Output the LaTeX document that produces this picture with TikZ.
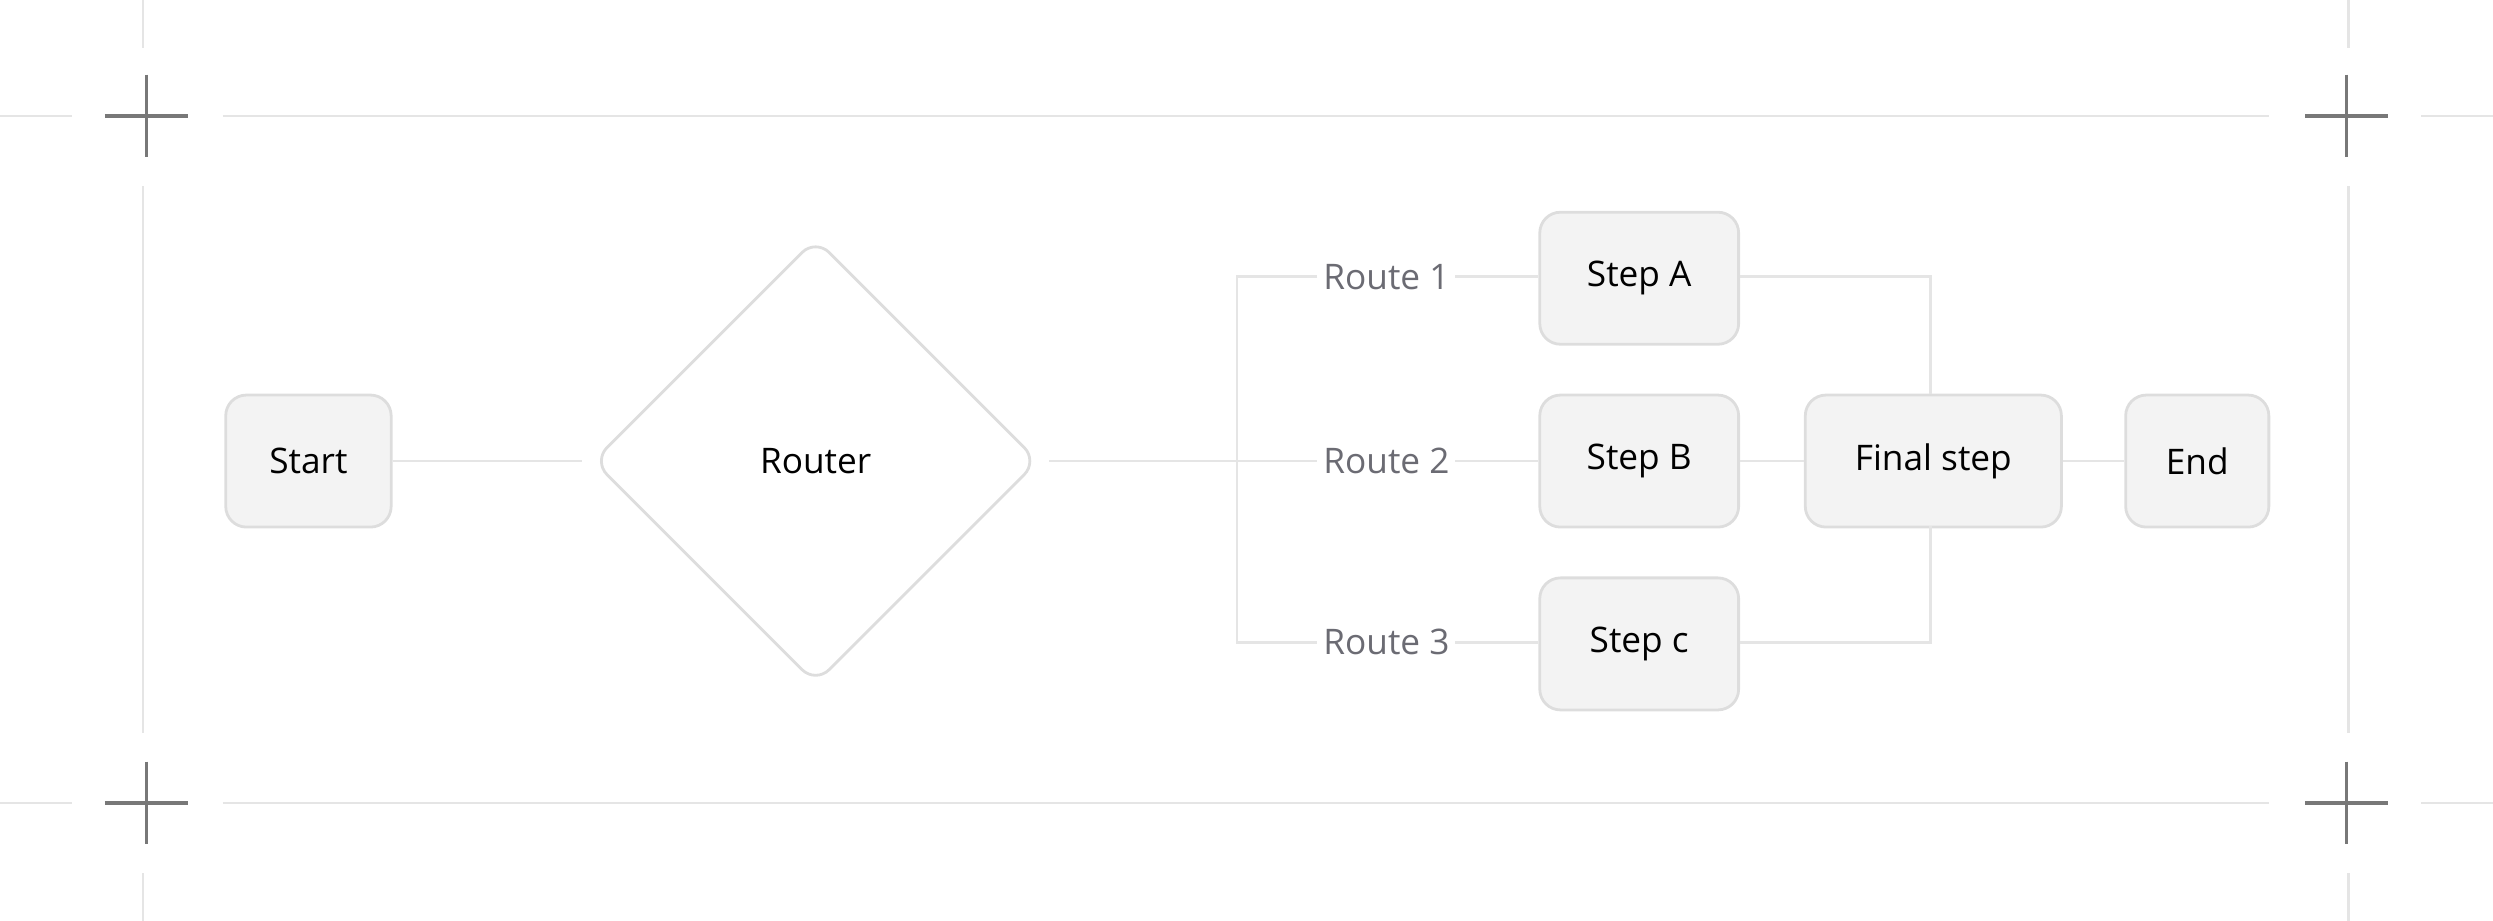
\documentclass[tikz,border=0pt]{standalone}
\usepackage{fontspec}
\setmainfont{Open Sans}
\usetikzlibrary{shapes.geometric}
\definecolor{boxfill}{RGB}{243,243,243}
\definecolor{boxline}{RGB}{221,221,221}
\definecolor{wireline}{RGB}{229,229,229}
\definecolor{markgray}{RGB}{120,120,120}
\definecolor{labelgray}{RGB}{107,107,115}

\begin{document}
\begin{tikzpicture}[x=0.01cm,y=-0.01cm,font=\fontsize{6.3pt}{7pt}\selectfont]

%
% Styles
%
\tikzstyle{stepbox} = [rectangle,rounded corners=0.13cm,draw=boxline,fill=boxfill,line width=0.5pt,minimum height=0.83cm,inner sep=0pt]
\tikzstyle{routelabel} = [text=labelgray,inner sep=0.03cm]
\tikzstyle{wire} = [draw=wireline,line width=0.5pt]
\tikzstyle{crossmark} = [draw=markgray,line width=0.6pt]

\useasboundingbox (0,0) rectangle (1568,579);

% frame
\draw[wire] (0,73) -- (45,73) (140,73) -- (1427,73) (1523,73) -- (1568,73);
\draw[wire] (0,505) -- (45,505) (140,505) -- (1427,505) (1523,505) -- (1568,505);
\draw[wire] (90,0) -- (90,30) (90,117) -- (90,461) (90,549) -- (90,579);
\draw[wire] (1477,0) -- (1477,30) (1477,117) -- (1477,461) (1477,549) -- (1477,579);
\foreach \cx/\cy in {92/73, 1476/73, 92/505, 1476/505}
  \draw[crossmark] (\cx-26,\cy) -- (\cx+26,\cy) (\cx,\cy-26) -- (\cx,\cy+26);

\node[stepbox,minimum width=1.04cm] (start) at (194,290) {Start};
\node[diamond,rounded corners=0.12cm,draw=boxline,fill=white,line width=0.5pt,minimum width=2.8cm,minimum height=2.8cm,inner sep=0pt] (router) at (513,290) {Router};
\node[routelabel] (r1) at (872,174) {Route 1};
\node[routelabel] (r2) at (872,290) {Route 2};
\node[routelabel] (r3) at (872,404) {Route 3};
\node[stepbox,minimum width=1.25cm] (sa) at (1031,175) {Step A};
\node[stepbox,minimum width=1.25cm] (sb) at (1031,290) {Step B};
\node[stepbox,minimum width=1.25cm] (sc) at (1031,405) {Step c};
\node[stepbox,minimum width=1.61cm] (final) at (1216,290) {Final step};
\node[stepbox,minimum width=0.90cm] (end) at (1382,290) {End};

\coordinate (split) at (778,290);
\coordinate (jointop) at (1214,248);
\coordinate (joinbot) at (1214,331);

\draw[wire,shorten >=0.06cm] (start) -- (router);
\draw[wire,shorten <=0.06cm] (router) -- (r2);
\draw[wire] (r1.west) -| (split) |- (r3.west);
\draw[wire] (r1) -- (sa.west |- r1);
\draw[wire] (r2) -- (sb);
\draw[wire] (r3) -- (sc.west |- r3);
\draw[wire] (sa.east |- r1) -| (jointop);
\draw[wire] (sc.east |- r3) -| (joinbot);
\draw[wire] (sb) -- (final);
\draw[wire] (final) -- (end);

\end{tikzpicture}
\end{document}
